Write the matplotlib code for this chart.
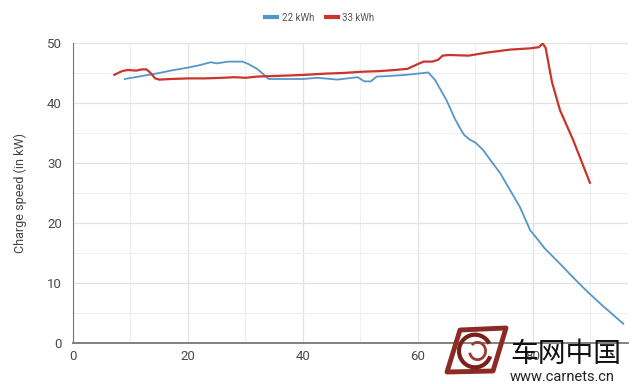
import matplotlib.pyplot as plt
from matplotlib.patches import Polygon, Arc

# data
x_22 = [9, 12, 15, 17, 20, 22, 24, 25, 27, 29.5, 30.5, 32, 33, 34, 36, 40,
        42.5, 46, 49.5, 50.7, 51.8, 52.8, 55, 58, 61, 61.8, 63, 64, 65, 66.4,
        67.2, 68, 69, 70, 71.3, 72.5, 74.3, 76, 77.7, 78.5, 79.5, 80.7, 82,
        84.7, 87, 89.4, 92, 95.7]
y_22 = [44.0, 44.5, 45.0, 45.4, 45.9, 46.3, 46.8, 46.6, 46.9, 46.9, 46.5,
        45.7, 44.9, 44.0, 44.0, 44.0, 44.2, 43.9, 44.3, 43.6, 43.6, 44.4,
        44.5, 44.7, 45.0, 45.1, 43.8, 42.1, 40.4, 37.4, 36.0, 34.7, 33.9,
        33.4, 32.2, 30.6, 28.3, 25.5, 22.7, 21.0, 18.8, 17.4, 15.8, 13.2,
        10.9, 8.6, 6.3, 3.2]

x_33 = [7.2, 8.5, 9.5, 11, 12, 12.8, 13.5, 14.3, 15, 17, 20, 23, 26, 28, 30,
        32, 35, 38, 40.5, 44, 47, 50, 53, 56, 58.2, 60, 61, 62.5, 63.5, 64.3,
        65.5, 68.8, 72, 76, 79.4, 81, 81.7, 82.2, 83.3, 84.7, 87, 89.9]
y_33 = [44.7, 45.3, 45.5, 45.4, 45.6, 45.6, 45.0, 44.1, 43.9, 44.0, 44.1,
        44.1, 44.2, 44.3, 44.2, 44.4, 44.5, 44.6, 44.7, 44.9, 45.0, 45.2,
        45.3, 45.5, 45.7, 46.5, 46.9, 46.9, 47.2, 47.9, 48.0, 47.9, 48.4,
        48.9, 49.1, 49.3, 49.9, 49.2, 43.5, 38.8, 33.8, 26.7]

labels = ['22 kWh', '33 kWh']
colors = ['#5596c8', '#c9352a']

plt.rcParams['font.family'] = ['Roboto', 'DejaVu Sans']

fig = plt.figure(figsize=(6.4, 3.84), dpi=100)
ax = fig.add_axes([0.114, 0.107, 0.867, 0.781])

ax.plot(x_22, y_22, color=colors[0], lw=1.3, label=labels[0])
ax.plot(x_33, y_33, color=colors[1], lw=1.6, label=labels[1])

ax.set_xlim(0, 96.5)
ax.set_ylim(0, 50)
ax.set_xticks([0, 20, 40, 60, 80])
ax.set_yticks([0, 10, 20, 30, 40, 50])
ax.set_xticks(range(10, 100, 20), minor=True)
ax.set_yticks(range(5, 50, 10), minor=True)
ax.grid(which='major', color='#e2e2e2', lw=0.9)
ax.grid(which='minor', color='#efefef', lw=0.8)
ax.set_axisbelow(True)
ax.tick_params(which='both', length=0, labelsize=9.5, colors='#4a4a4a', pad=5)
ax.tick_params(axis='y', pad=8)

for s in ['top', 'right']:
    ax.spines[s].set_visible(False)
ax.spines['left'].set_color('#777777')
ax.spines['bottom'].set_color('#777777')
ax.spines['bottom'].set_linewidth(1.3)

ax.set_ylabel('Charge speed (in kW)', fontsize=9, color='#444444', labelpad=14)

fig.legend(loc='upper center', bbox_to_anchor=(0.5, 0.99), ncol=2, frameon=False,
           fontsize=7, handlelength=1.2, handletextpad=0.5, columnspacing=1.2,
           labelcolor='#555555')
for line in fig.legends[0].get_lines():
    line.set_linewidth(3)

# watermark (pixel positions converted to figure fractions)
def fp(px, py):
    return (px / 640, 1 - py / 384)

frame = Polygon([fp(447, 372), fp(460, 330), fp(506, 328), fp(493, 371)],
                closed=True, transform=fig.transFigure, fc='none',
                ec='#8c2b24', lw=3.5, joinstyle='round')
fig.add_artist(frame)
cx, cy = fp(475, 351)
fig.add_artist(Arc((cx, cy), 0.05, 0.085, theta1=40, theta2=330,
                   transform=fig.transFigure, ec='#7a1f1a', lw=3))
fig.add_artist(Arc((cx + 0.004, cy), 0.025, 0.045, theta1=200, theta2=120,
                   transform=fig.transFigure, ec='#9c3a2f', lw=2))
fig.text(0.797, 0.058, '车网中国', fontsize=20,
         family=['Noto Sans CJK SC', 'DejaVu Sans'], color='#111111')
fig.text(0.797, 0.008, 'www.carnets.cn', fontsize=10.5, color='#222222')

fig.savefig('out.png', dpi=100)
